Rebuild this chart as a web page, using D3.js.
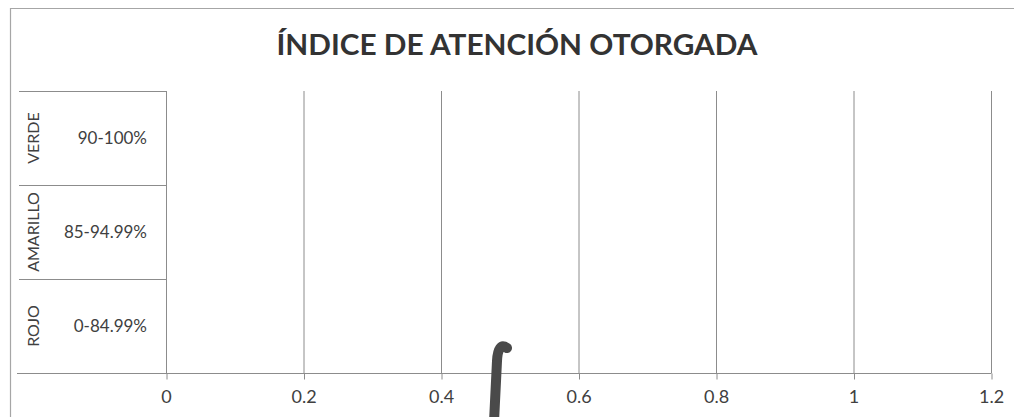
<!DOCTYPE html>
<html>
<head>
<meta charset="utf-8">
<script src="https://cdn.jsdelivr.net/npm/d3@7"></script>
<style>
  body { margin: 0; background: #fff; overflow: hidden; }
  text { font-family: Lato, "Open Sans", sans-serif; fill: #404040; }
</style>
</head>
<body>
<div id="chart"></div>
<script>
// Data
const groups = ["VERDE", "AMARILLO", "ROJO"];
const categories = ["90-100%", "85-94.99%", "0-84.99%"];
const values = [0, 0, 0];
const xTicks = [0, 0.2, 0.4, 0.6, 0.8, 1, 1.2];
const penMark = 0.48; // hand drawn stroke on the scan

// Dimensions
const width = 1014, height = 417;
const margin = {left: 166, right: 23, top: 91, bottom: 44};

const svg = d3.select("#chart").append("svg")
    .attr("width", width)
    .attr("height", height)
    .style("display", "block");

// outer chart border (only top and left edges are on the page)
svg.append("path")
    .attr("d", `M10.5,${height}V8.5H${width}`)
    .attr("fill", "none")
    .attr("stroke", "#a6a6a6")
    .attr("stroke-width", 1.2);

// Scales
const x = d3.scaleLinear()
    .domain([0, 1.2])
    .range([margin.left, width - margin.right]);

const y = d3.scaleBand()
    .domain(categories)
    .range([margin.top, height - margin.bottom]);

// Title
svg.append("text")
    .attr("x", 517)
    .attr("y", 55)
    .attr("text-anchor", "middle")
    .attr("textLength", 481)
    .attr("lengthAdjust", "spacingAndGlyphs")
    .style("font-size", "28px")
    .style("font-weight", "bold")
    .style("fill", "#333")
    .text("ÍNDICE DE ATENCIÓN OTORGADA");

// Gridlines
svg.append("g")
    .selectAll("line")
    .data(xTicks.slice(1))
  .enter().append("line")
    .attr("x1", d => x(d) + 0.5).attr("x2", d => x(d) + 0.5)
    .attr("y1", margin.top).attr("y2", height - margin.bottom)
    .attr("stroke", "#8c8c8c");

// Bars (all zero)
svg.append("g")
    .selectAll("rect")
    .data(values)
  .enter().append("rect")
    .attr("x", x(0))
    .attr("y", (d, i) => y(categories[i]) + y.bandwidth() * 0.25)
    .attr("width", d => x(d) - x(0))
    .attr("height", y.bandwidth() * 0.5)
    .attr("fill", "#4f81bd");

// X axis
const xAxis = svg.append("g")
    .attr("transform", `translate(0, ${height - margin.bottom + 0.5})`)
    .call(d3.axisBottom(x).tickValues(xTicks).tickSize(6).tickPadding(11)
      .tickFormat(d => d3.format("")(+d.toFixed(1))));
xAxis.select(".domain").remove();
xAxis.selectAll(".tick line").attr("stroke", "#8c8c8c").attr("transform", "translate(0.5,0)");
xAxis.selectAll(".tick text")
    .attr("font-size", null)
    .style("font-size", "18px")
    .style("font-family", "Lato, sans-serif")
    .attr("fill", "#404040");

// bottom axis line, extended under the category table
svg.append("line")
    .attr("x1", 17).attr("x2", x(1.2) + 0.5)
    .attr("y1", height - margin.bottom + 0.5).attr("y2", height - margin.bottom + 0.5)
    .attr("stroke", "#8c8c8c");

// category axis line
svg.append("line")
    .attr("x1", x(0) + 0.5).attr("x2", x(0) + 0.5)
    .attr("y1", margin.top).attr("y2", height - margin.bottom)
    .attr("stroke", "#8c8c8c");

// row separators of the two-level category table
svg.append("g")
    .selectAll("line")
    .data(categories)
  .enter().append("line")
    .attr("x1", 19).attr("x2", x(0))
    .attr("y1", d => y(d) + 0.5).attr("y2", d => y(d) + 0.5)
    .attr("stroke", "#8c8c8c");

// category labels
svg.append("g")
    .selectAll("text")
    .data(categories)
  .enter().append("text")
    .attr("x", x(0) - 19)
    .attr("y", d => y(d) + y.bandwidth() / 2)
    .attr("dy", "0.35em")
    .attr("text-anchor", "end")
    .style("font-size", "17px")
    .text(d => d);

// group labels, rotated
svg.append("g")
    .selectAll("text")
    .data(groups)
  .enter().append("text")
    .attr("transform", (d, i) => `translate(33, ${y(categories[i]) + y.bandwidth() / 2}) rotate(-90)`)
    .attr("dy", "0.35em")
    .attr("text-anchor", "middle")
    .style("font-size", "16px")
    .text(d => d);

// pen stroke from the scanned page
const py = height - margin.bottom;
svg.append("path")
    .attr("d", `M${x(penMark) + 11},${py - 25} Q${x(penMark) + 2},${py - 31} ${x(penMark) + 1},${py - 12} L${x(penMark) - 2},${height + 5}`)
    .attr("fill", "none")
    .attr("stroke", "#4a4a4a")
    .attr("stroke-width", 10)
    .attr("stroke-linecap", "round");
</script>
</body>
</html>
